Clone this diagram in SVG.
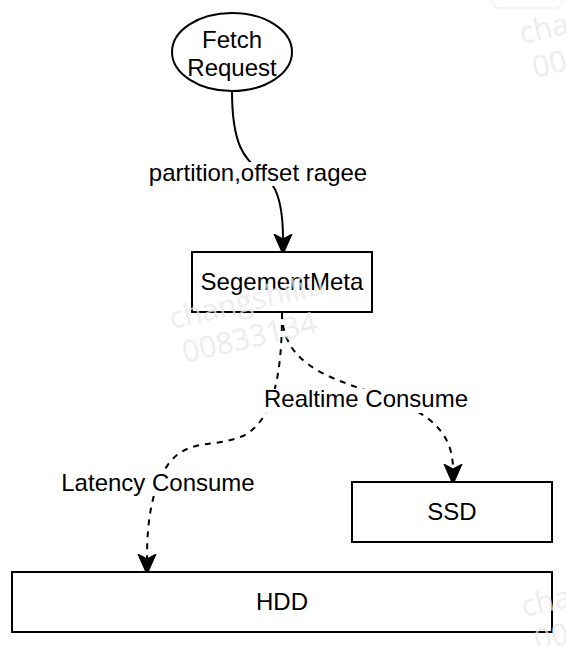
<svg xmlns="http://www.w3.org/2000/svg" width="566" height="646" viewBox="0 0 566 646">
<style>
.box{fill:#fff;stroke:#000;stroke-width:2}
.t{font-family:"Liberation Sans",Arial,Helvetica,sans-serif;font-size:24px;fill:#000;text-anchor:middle}
.edge{fill:none;stroke:#000;stroke-width:2}
.dash{stroke-dasharray:6 6}
.lbl{fill:#fff}
.wm{font-family:"Open Sans","Noto Sans",sans-serif;font-size:30px;fill:#e6e6e6;fill-opacity:0.75}
</style>
<defs>
<marker id="arr" markerUnits="userSpaceOnUse" markerWidth="20" markerHeight="20" viewBox="0 0 17 16" refX="4" refY="8" orient="auto">
<path d="M0,0.5 L17,8 L0,15.5 L4,8 Z" fill="#000" stroke="#000" stroke-width="1" stroke-linejoin="miter"/>
</marker>
</defs>
<rect x="492" y="-22" width="70" height="30" rx="8" fill="#fff" stroke="#f1f1f1" stroke-width="1.5"/>
<g id="connectors">
<path class="edge" d="M232,91 C232,200 283,140 283,239" marker-end="url(#arr)"/>
<path class="edge dash" d="M282,313 C282,370 275,420 243,436 C215,448 190,438 170,462 C152,485 147,520 147,559" marker-end="url(#arr)"/>
<path class="edge dash" d="M282,313 C282,410 453,372 453,469" marker-end="url(#arr)"/>
<rect class="lbl" x="147" y="162" width="222" height="24"/>
<text class="t" x="258" y="181">partition,offset ragee</text>
<rect class="lbl" x="265" y="389" width="202" height="24"/>
<text class="t" x="366" y="407">Realtime Consume</text>
<rect class="lbl" x="60" y="472" width="196" height="24"/>
<text class="t" x="158" y="491">Latency Consume</text>
</g>
<g id="fetch-request">
<ellipse class="box" cx="232" cy="52" rx="60" ry="39"/>
<text class="t" x="232" y="48">Fetch</text>
<text class="t" x="232" y="76">Request</text>
</g>
<g id="segement-meta">
<rect class="box" x="192" y="252" width="180" height="60"/>
<text class="t" x="282" y="290">SegementMeta</text>
</g>
<g id="ssd">
<rect class="box" x="352" y="482" width="200" height="60"/>
<text class="t" x="452" y="520">SSD</text>
</g>
<g id="hdd">
<rect class="box" x="12" y="572" width="540" height="60"/>
<text class="t" x="282" y="610">HDD</text>
</g>
<g id="watermarks">
<g transform="translate(172,329) rotate(-13)"><text class="wm" x="0" y="0">changshiliu</text><text class="wm" x="5" y="36">00833134</text></g>
<g transform="translate(522,44) rotate(-13)"><text class="wm" x="0" y="0">changshiliu</text><text class="wm" x="5" y="36">00833134</text></g>
<g transform="translate(524,617) rotate(-13)"><text class="wm" x="0" y="0">changshiliu</text><text class="wm" x="5" y="36">00833134</text></g>
</g>
</svg>
